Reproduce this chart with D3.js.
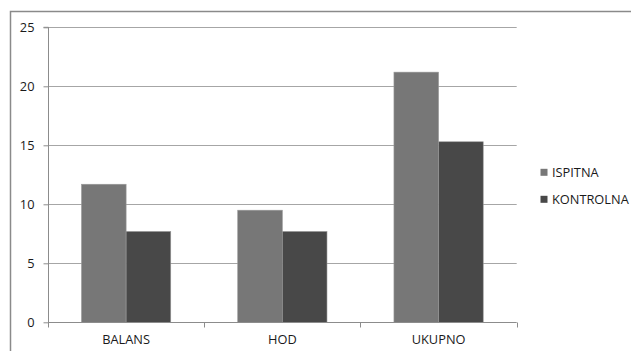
<!DOCTYPE html>
<html>
<head>
<meta charset="utf-8">
<script src="https://cdn.jsdelivr.net/npm/d3@7"></script>
<style>
  html, body { margin: 0; padding: 0; background: #fff; }
  svg { display: block; }
  text { font-family: "Open Sans", sans-serif; fill: #1a1a1a; }
</style>
</head>
<body>
<svg id="chart" width="631" height="351"></svg>
<script>
// Results per test
const categories = ["BALANS", "HOD", "UKUPNO"];
const seriesNames = ["ISPITNA", "KONTROLNA"];
const ispitna = [11.7, 9.5, 21.2];
const kontrolna = [7.7, 7.7, 15.3];
const yTicks = [0, 5, 10, 15, 20, 25];
const colors = ["#777777", "#484848"];

const svg = d3.select("#chart");
const FONT = "'Open Sans', sans-serif";
const FS = 12.8;

// frame around the chart
svg.append("rect")
  .attr("x", 10.5).attr("y", 11.5)
  .attr("width", 640).attr("height", 360)
  .attr("fill", "none").attr("stroke", "#8a8a8a").attr("stroke-width", 1.5);

const plot = { left: 48, right: 516.7, top: 27.3, bottom: 322.3 };

const x = d3.scaleBand().domain(categories)
  .range([plot.left, plot.right]).paddingInner(0).paddingOuter(0);
const y = d3.scaleLinear().domain([0, 25]).range([plot.bottom, plot.top]);
const inner = d3.scaleBand().domain(seriesNames)
  .range([0, x.bandwidth()]).paddingInner(0).paddingOuter(0.75);

// horizontal gridlines
svg.append("g")
  .selectAll("line").data(yTicks.filter(d => d > 0)).join("line")
  .attr("x1", plot.left).attr("x2", plot.right)
  .attr("y1", d => Math.round(y(d)) + 0.5).attr("y2", d => Math.round(y(d)) + 0.5)
  .attr("stroke", "#a6a6a6").attr("stroke-width", 1);

// bars
const data = categories.map((c, i) => ({ c, vals: [ispitna[i], kontrolna[i]] }));
const groups = svg.append("g").selectAll("g").data(data).join("g")
  .attr("transform", d => `translate(${x(d.c)},0)`);
groups.selectAll("rect")
  .data(d => d.vals.map((v, j) => ({ name: seriesNames[j], v, j })))
  .join("rect")
  .attr("x", d => inner(d.name))
  .attr("width", inner.bandwidth())
  .attr("y", d => y(d.v))
  .attr("height", d => y(0) - y(d.v))
  .attr("fill", d => colors[d.j])
  .attr("stroke", "#9a9a9a").attr("stroke-width", 0.6);

// y axis
const yAxis = d3.axisLeft(y).tickValues(yTicks).tickSize(5).tickPadding(9)
  .tickFormat(d3.format("d"));
const gy = svg.append("g").attr("transform", `translate(${plot.left + 0.5},0)`).call(yAxis);
gy.select(".domain").attr("stroke", "#8c8c8c").attr("d", `M-5,${plot.top}H0V${plot.bottom}`);
gy.selectAll(".tick line").attr("stroke", "#8c8c8c");
gy.selectAll(".tick text").attr("font-size", FS).attr("fill", "#1a1a1a")
  .style("font-family", FONT);

// x axis
const xAxis = d3.axisBottom(x).tickSize(0).tickPadding(12);
const gx = svg.append("g").attr("transform", `translate(0,${Math.round(plot.bottom) + 0.5})`).call(xAxis);
gx.select(".domain").attr("stroke", "#8c8c8c").attr("d", `M${plot.left},0H${plot.right}`);
gx.selectAll(".tick text").attr("font-size", FS).attr("fill", "#1a1a1a")
  .style("font-family", FONT);
// category boundary ticks
const bounds = categories.map(c => x(c)).concat([x.range()[1]]);
gx.append("g").selectAll("line").data(bounds).join("line")
  .attr("x1", d => Math.round(d) + 0.5).attr("x2", d => Math.round(d) + 0.5)
  .attr("y1", 0).attr("y2", 5).attr("stroke", "#8c8c8c");

// legend
const legend = svg.append("g");
const legendY = [172.3, 199.3];
seriesNames.forEach((n, i) => {
  legend.append("rect")
    .attr("x", 540.5).attr("y", legendY[i] - 3.5)
    .attr("width", 7).attr("height", 7)
    .attr("fill", colors[i]);
  legend.append("text")
    .attr("x", 552).attr("y", legendY[i])
    .attr("dy", "0.35em").attr("font-size", FS)
    .style("font-family", FONT)
    .text(n);
});
</script>
</body>
</html>
